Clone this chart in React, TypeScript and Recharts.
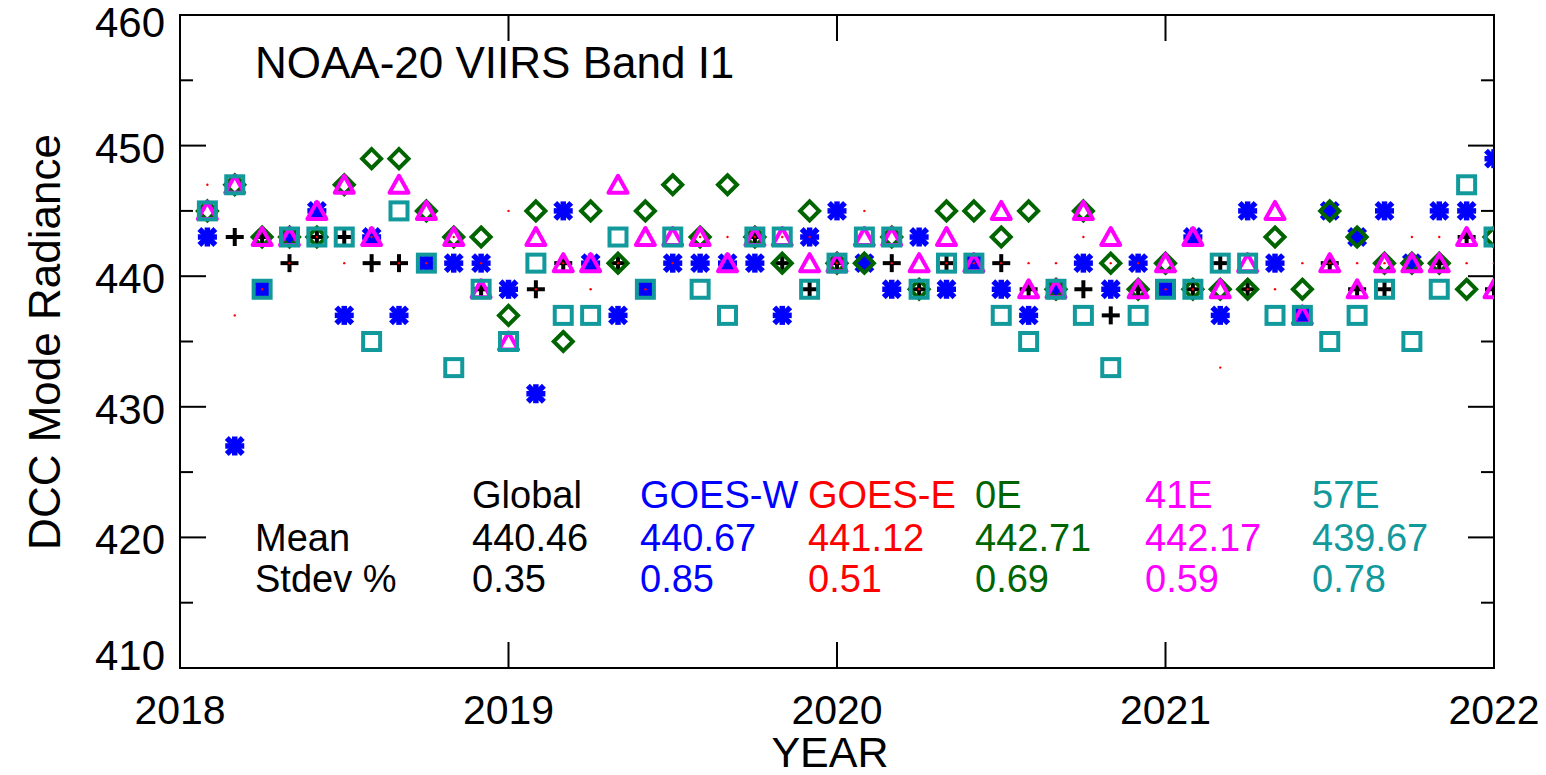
import React from 'react';
import { ScatterChart, Scatter, XAxis, YAxis, ReferenceArea } from 'recharts';

// ---- data ----
const monthIndex = Array.from({ length: 48 }, (_, i) => i + 1);
const yearTicks = [2018, 2019, 2020, 2021, 2022];
const radianceTicks = [410, 415, 420, 425, 430, 435, 440, 445, 450, 455, 460];

const globalVals = [443,443,443,441,443,443,441,441,441,441, 439,439,439,441,441,441,439,441,441,441, 443,441,439,441,441,441,439,441,441,441, 439,439,439,437,439,439,439,441,439,441, 437,441,439,439,441,441,443,439];
const goesWVals = [443,427,439,443,445,437,443,437,441,441, 441,439,431,445,441,437,439,441,441,441, 441,437,443,445,441,439,443,439,441,439, 437,439,441,439,441,439,443,437,445,441, 437,445,443,445,441,445,445,449];
const goesEVals = [447,437,439,441,443,441,443,441,441,443, 441,445,439,441,439,441,439,441,443,443, 443,443,443,441,445,441,439,441,441,441, 441,441,443,441,441,439,439,433,439,439, 441,441,441,441,443,443,441,441];
const e0Vals = [445,447,443,443,443,447,449,449,445,443, 443,437,445,435,445,441,445,447,443,447, 443,441,445,441,441,443,439,445,445,443, 445,439,445,441,439,441,439,439,439,443, 439,445,443,441,441,441,439,443];
const e41Vals = [445,447,443,443,445,447,443,447,445,443, 439,435,443,441,441,447,443,443,443,441, 443,443,441,441,443,443,441,443,441,445, 439,439,445,443,439,441,443,439,441,445, 437,441,439,441,441,441,443,439];
const e57Vals = [445,447,439,443,443,443,435,445,441,433, 439,435,441,437,437,443,439,443,439,437, 443,443,439,441,443,443,439,441,441,437, 435,439,437,433,437,439,439,441,441,437, 437,435,437,439,435,439,447,443];

const seriesNames = ['Global', 'GOES-W', 'GOES-E', '0E', '41E', '57E'];
const seriesColors = ['#000000', '#0000ff', '#ff0000', '#006400', '#ff00ff', '#12999b'];
const meanVals = ['440.46', '440.67', '441.12', '442.71', '442.17', '439.67'];
const stdevVals = ['0.35', '0.85', '0.51', '0.69', '0.59', '0.78'];
const tableX = [472, 640, 808, 975, 1145, 1312];

const toPoints = (vals: number[]) => monthIndex.map((m, i) => ({ x: 2018 + m / 12, y: vals[i] }));

// ---- layout ----
const W = 1546;
const H = 775;
const PL = 180;
const PR = 1494;
const PT = 15;
const PB = 668;
const FONT = '"Liberation Sans", Arial, Helvetica, sans-serif';

// ---- symbols ----
const PlusShape = (p: any) => (
  <g>
    <line x1={p.cx - 9} y1={p.cy} x2={p.cx + 9} y2={p.cy} stroke="#000" strokeWidth={4} />
    <line x1={p.cx} y1={p.cy - 9} x2={p.cx} y2={p.cy + 9} stroke="#000" strokeWidth={4} />
  </g>
);
const AsteriskShape = (p: any) => (
  <g stroke="#0000ff" strokeWidth={5.5}>
    <line x1={p.cx - 9.5} y1={p.cy} x2={p.cx + 9.5} y2={p.cy} />
    <line x1={p.cx} y1={p.cy - 9.5} x2={p.cx} y2={p.cy + 9.5} />
    <line x1={p.cx - 8} y1={p.cy - 8} x2={p.cx + 8} y2={p.cy + 8} />
    <line x1={p.cx - 8} y1={p.cy + 8} x2={p.cx + 8} y2={p.cy - 8} />
  </g>
);
const DotShape = (p: any) => <circle cx={p.cx} cy={p.cy} r={1.2} fill="#ff0000" />;
const DiamondShape = (p: any) => (
  <polygon
    points={`${p.cx},${p.cy - 9.5} ${p.cx + 9.5},${p.cy} ${p.cx},${p.cy + 9.5} ${p.cx - 9.5},${p.cy}`}
    fill="none" stroke="#006400" strokeWidth={4}
  />
);
const TriangleShape = (p: any) => (
  <polygon
    points={`${p.cx},${p.cy - 9} ${p.cx + 9.5},${p.cy + 8} ${p.cx - 9.5},${p.cy + 8}`}
    fill="none" stroke="#ff00ff" strokeWidth={4} strokeLinejoin="round"
  />
);
const SquareShape = (p: any) => (
  <rect x={p.cx - 8.5} y={p.cy - 8.5} width={17} height={17} fill="none" stroke="#12999b" strokeWidth={4} />
);

// ---- ticks ----
const YTick = (p: any) => {
  const v = p.payload.value;
  const y = p.y;
  const major = v % 10 === 0;
  const len = major ? 26 : 13;
  const dy = v === 460 ? 22 : v === 410 ? 2 : 17;
  return (
    <g>
      <line x1={PL} y1={y} x2={PL + len} y2={y} stroke="#000" strokeWidth={2} />
      <line x1={PR} y1={y} x2={PR - len} y2={y} stroke="#000" strokeWidth={2} />
      {major && (
        <text x={165} y={y + dy} textAnchor="end" fontSize={42} fontFamily={FONT} fill="#000">
          {v}
        </text>
      )}
    </g>
  );
};
const XTick = (p: any) => {
  const x = p.x;
  return (
    <g>
      <line x1={x} y1={PB} x2={x} y2={PB - 26} stroke="#000" strokeWidth={2} />
      <line x1={x} y1={PT} x2={x} y2={PT + 26} stroke="#000" strokeWidth={2} />
      <text x={x} y={724} textAnchor="middle" fontSize={41} fontFamily={FONT} fill="#000">
        {p.payload.value}
      </text>
    </g>
  );
};

export default function App() {
  return (
    <div style={{ position: 'absolute', left: 0, top: 0, width: W, height: H, background: '#fff' }}>
      <ScatterChart width={W} height={H} margin={{ top: PT, right: W - PR, bottom: 0, left: 0 }}>
        <XAxis
          type="number" dataKey="x" domain={[2018, 2022]} ticks={yearTicks} interval={0}
          height={H - PB} tickLine={false} axisLine={{ stroke: '#000', strokeWidth: 2 }}
          tick={<XTick />} allowDataOverflow
        />
        <YAxis
          type="number" dataKey="y" domain={[410, 460]} ticks={radianceTicks} interval={0}
          width={PL} tickLine={false} axisLine={{ stroke: '#000', strokeWidth: 2 }}
          tick={<YTick />} allowDataOverflow
        />
        <ReferenceArea x1={2018} x2={2022} y1={410} y2={460} fill="none" stroke="#000" strokeWidth={2} />
        <Scatter name="Global" data={toPoints(globalVals)} shape={PlusShape} isAnimationActive={false} />
        <Scatter name="GOES-W" data={toPoints(goesWVals)} shape={AsteriskShape} isAnimationActive={false} />
        <Scatter name="GOES-E" data={toPoints(goesEVals)} shape={DotShape} isAnimationActive={false} />
        <Scatter name="0E" data={toPoints(e0Vals)} shape={DiamondShape} isAnimationActive={false} />
        <Scatter name="41E" data={toPoints(e41Vals)} shape={TriangleShape} isAnimationActive={false} />
        <Scatter name="57E" data={toPoints(e57Vals)} shape={SquareShape} isAnimationActive={false} />
      </ScatterChart>
      <svg width={W} height={H} style={{ position: 'absolute', left: 0, top: 0, pointerEvents: 'none' }}>
        <text x={255} y={78} fontSize={44} fontFamily={FONT} fill="#000">NOAA-20 VIIRS Band I1</text>
        <text x={0} y={0} fontSize={44} fontFamily={FONT} fill="#000" textAnchor="middle"
          transform="translate(60,342) rotate(-90)">DCC Mode Radiance</text>
        <text x={830} y={767} fontSize={43} fontFamily={FONT} fill="#000" textAnchor="middle">YEAR</text>
        <text x={255} y={551} fontSize={38} fontFamily={FONT} fill="#000">Mean</text>
        <text x={255} y={592} fontSize={38} fontFamily={FONT} fill="#000">Stdev %</text>
        {seriesNames.map((n, i) => (
          <g key={n}>
            <text x={tableX[i]} y={508} fontSize={38} fontFamily={FONT} fill={seriesColors[i]}>{n}</text>
            <text x={tableX[i]} y={551} fontSize={38} fontFamily={FONT} fill={seriesColors[i]}>{meanVals[i]}</text>
            <text x={tableX[i]} y={592} fontSize={38} fontFamily={FONT} fill={seriesColors[i]}>{stdevVals[i]}</text>
          </g>
        ))}
      </svg>
    </div>
  );
}
